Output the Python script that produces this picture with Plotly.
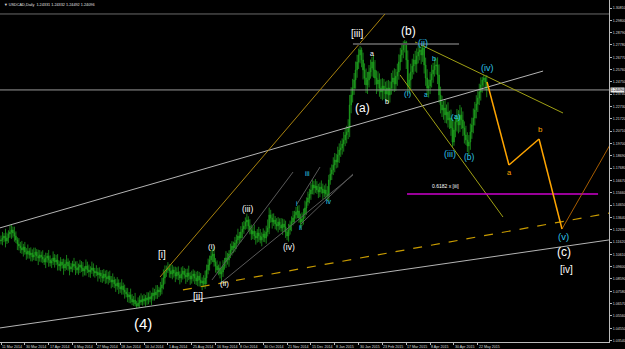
import plotly.graph_objects as go

# ---------------- data (prices in pips, 1e-4) ----------------
first_open = 11170
close_pips = [
    11179,11195,11211,11170,11195,11228,11244,11261,11236,11211,11179,11146,11129,
    11113,11097,11121,11080,11064,11088,11056,11072,11039,11056,11080,11047,11031,11056,
    11039,11023,10998,11031,11047,11015,10990,11006,11031,10998,
    11015,10982,10965,10998,10974,10949,10982,10998,10965,10941,10957,10982,10965,10949,
    10933,10957,10974,10949,10924,10941,10965,10933,10916,10933,10949,10924,10908,
    10916,10892,10908,10883,10867,10900,10875,10859,10883,10851,
    10834,10851,10818,10801,10826,10793,10777,10801,10769,10752,
    10736,10711,10728,10695,10670,10687,10654,10637,
    10662,10687,10670,10695,10678,10703,10687,10711,10695,
    10719,10744,10728,10752,10769,10752,10785,10810,10867,
    10916,10933,10949,10924,
    10900,10933,10908,10883,10916,10892,10867,10900,10924,10892,10875,10908,10883,10859,10883,10900,
    10867,10842,10883,10851,10826,10842,10818,
    10867,10933,10974,11015,11047,11064,
    10998,10965,10933,10949,10900,10916,
    10965,10998,11031,11015,11064,11097,11129,11113,11154,11179,11211,11195,11244,11269,11293,11326,11343,
    11293,11261,11228,11252,11211,11195,11236,11211,11179,11203,11228,11195,11244,11277,
    11384,11359,11326,11343,11310,11293,11326,11302,11277,11310,11285,11244,11211,
    11261,11302,11326,11359,11384,11408,11416,
    11359,11326,11351,
    11392,11441,11490,11523,11556,11589,11630,
    11605,11621,11589,11572,11613,11597,11564,11589,11556,11539,
    11671,11720,11753,11794,11835,11818,11876,11917,11933,11966,11999,12040,12064,12097,
    12286,12368,12425,12491,12573,12638,12696,12737,
    12655,12573,12507,12450,12491,12556,12589,
    12638,
    12573,12507,12458,12491,12425,12392,12441,12409,12376,12425,12368,
    12425,12474,12507,12458,12523,12556,
    12638,12696,12737,12778,12802,12655,
    12441,12491,
    12556,12605,12655,12622,12687,12720,12737,12696,12753,
    12614,12507,12425,12441,
    12491,12540,12573,12605,12614,
    12532,12368,12286,12245,12261,12204,12228,12163,12179,12097,11982,
    12081,12146,12179,12122,12204,12163,12097,
    12040,11999,11949,11982,
    12064,12122,12179,12245,12294,12343,12392,
    12450,12491,12507,12474,12409,
]
wick_up = [
    36,50,24,60,44,30,56,40,28,52,38,22,48,34,58,26,42,32,54,24,
    46,30,60,36,24,52,40,28,56,34,44,26,50,38,22,54,32,42,48,28,
    40,24,52,36,58,30,44,34,26,50,38,56,28,42,32,48,22,54,36,44,
    30,52,38,26,56,34,46,24,50,40,28,58,36,44,32,54,26,42,48,30,
    38,56,28,44,34,50,24,52,40,32,58,26,46,36,54,30,42,24,48,38,
    52,28,44,34,56,40,26,50,60,70,54,36,48,32,58,42,28,52,38,46,
    30,54,40,26,50,36,60,32,44,38,28,52,42,34,56,30,48,60,44,52,
    36,50,40,58,32,46,28,54,38,48,34,56,42,30,52,40,36,50,44,60,
    34,48,56,42,38,52,30,56,44,36,54,40,32,50,58,38,46,28,52,70,
    60,42,36,54,32,48,40,30,56,44,38,52,28,50,36,46,58,34,42,40,
    48,36,54,44,60,38,52,42,56,46,34,58,40,50,36,54,44,38,52,64,
    42,52,45,63,57,50,68,54,60,46,66,58,51,72,82,63,75,57,69,60,
    52,32,20,60,54,78,66,57,69,42,58,81,62,70,54,75,64,57,68,60,
    66,56,74,62,80,57,69,63,58,52,30,17,10,78,54,68,60,50,75,63,
    57,25,30,25,15,60,72,54,66,76,58,69,52,63,87,68,75,57,70,62,
    80,60,69,66,78,57,74,64,82,62,70,54,75,63,57,69,60,78,66,72,
    58,68,62,25,25,15,57,
]
wick_dn = [
    28,44,34,52,24,40,30,56,38,46,26,50,36,42,32,54,22,48,38,30,
    52,36,26,48,40,58,30,44,34,24,50,38,56,28,42,32,46,26,54,36,
    42,30,56,26,48,38,52,24,44,34,58,28,40,50,32,46,36,54,26,42,
    48,32,44,38,26,54,30,50,40,28,56,36,46,24,52,42,34,48,30,58,
    32,46,38,54,28,42,50,36,26,32,20,17,12,38,24,30,30,46,40,36,
    28,50,38,46,32,56,42,30,52,36,48,40,26,54,34,44,38,50,28,42,
    52,36,46,30,56,40,34,48,38,44,50,32,42,54,28,60,26,40,52,36,
    46,32,50,38,54,28,44,36,60,40,30,48,38,56,34,46,42,32,50,38,
    44,34,52,40,30,56,46,36,50,42,32,54,38,48,28,52,40,34,46,36,
    50,38,54,32,44,36,52,40,30,56,42,48,34,46,38,52,28,44,36,50,
    40,52,34,46,38,56,30,44,48,36,54,40,32,50,42,38,52,34,46,40,
    45,39,50,42,60,52,46,66,57,54,63,51,69,58,75,68,62,56,72,64,
    57,69,60,78,56,66,74,62,54,70,64,58,82,63,72,57,68,76,60,66,
    70,62,54,75,66,58,80,63,69,57,68,62,74,52,64,75,56,69,63,72,
    60,68,76,57,70,64,58,78,66,62,72,54,68,75,63,69,58,80,66,70,
    62,74,64,41,30,60,78,69,57,75,66,70,40,49,72,64,56,68,62,69,
    66,58,70,63,57,68,60,
]
assert len(close_pips) == 327, len(close_pips)
assert len(wick_up) == 327, len(wick_up)
assert len(wick_dn) == 327, len(wick_dn)

date_labels = ["11 Mar 2014", "30 Mar 2014", "17 Apr 2014", "6 May 2014", "27 May 2014",
               "18 Jun 2014", "10 Jul 2014", "1 Aug 2014", "25 Aug 2014", "16 Sep 2014",
               "8 Oct 2014", "30 Oct 2014", "21 Nov 2014", "15 Dec 2014", "8 Jan 2015",
               "30 Jan 2015", "23 Feb 2015", "17 Mar 2015", "8 Apr 2015", "30 Apr 2015",
               "22 May 2015"]
date_label_bars = [0, 16, 32, 48, 64, 80, 96, 112, 128, 144, 160, 176, 192, 208, 224,
                   240, 256, 272, 288, 304, 320]

price_ticks = ["1.30810", "1.29800", "1.28790", "1.27780", "1.26770", "1.25760", "1.24750",
               "1.23740", "1.22730", "1.21720", "1.20710", "1.19700", "1.18690", "1.17680",
               "1.16670", "1.15660", "1.14650", "1.13640", "1.12630", "1.11620", "1.10610",
               "1.09600", "1.08590", "1.07580", "1.06570", "1.05560", "1.04550", "1.03540"]

# analysis objects: (bar0, price0, bar1, price1)
gray_upper = (-1, 1.1277, 363.8, 1.2564)
gray_lower = (-1, 1.0457, 408.0, 1.1179)
gold_channel = (106.7, 1.0875, 257.7, 1.3032)
gold_dashed = (122.1, 1.0769, 408.7, 1.1400)
thin_lines = [(141.6, 1.0851, 196.0, 1.1736),
              (148.3, 1.0834, 236.2, 1.1711),
              (198.7, 1.1474, 214.1, 1.1777),
              (201.3, 1.1310, 236.2, 1.1720)]
olive_upper = (277.9, 1.2802, 377.2, 1.2220)
olive_lower = (267.8, 1.2532, 336.9, 1.1367)
high_level = (236.2, 307.4, 1.2786)
top_level = 1.3032
fib_level = (272.5, 400.7, 1.1556)
proj_bars = [326.2, 340.9, 361.1, 376.5]
proj_prices = [1.2474, 1.1794, 1.2007, 1.1269]
proj_next = (376.5, 1.1269, 408.7, 1.1958)

white_labels = [("(4)", 95.3, 1.0498, 15), ("[i]", 108.0, 1.1056, 10), ("[ii]", 132.2, 1.0719, 10),
                ("(i)", 141.6, 1.1129, 8), ("(ii)", 149.7, 1.0826, 8), ("(iii)", 165.1, 1.1433, 8.5),
                ("(iv)", 193.3, 1.1121, 8.5), ("[iii]", 238.9, 1.2876, 10), ("(a)", 242.3, 1.2261, 12),
                ("a", 249.0, 1.2704, 7), ("b", 259.0, 1.2318, 7), ("(b)", 273.2, 1.2892, 12),
                ("(c)", 377.9, 1.1080, 12), ("[iv]", 379.2, 1.0933, 10)]
cyan_labels = [("i", 198.7, 1.1482, 7), ("ii", 201.3, 1.1285, 7), ("iii", 206.0, 1.1720, 7),
               ("iv", 220.1, 1.1498, 7), ("(i)", 272.5, 1.2376, 8), ("(ii)", 283.2, 1.2794, 9),
               ("a", 285.2, 1.2368, 6.5), ("b", 290.6, 1.2663, 7.5), ("(a)", 305.4, 1.2195, 8),
               ("(iii)", 301.3, 1.1884, 9), ("(b)", 314.1, 1.1859, 8.5), ("(iv)", 326.2, 1.2589, 9),
               ("(v)", 377.2, 1.1211, 9.5)]
orange_labels = [("a", 341.6, 1.1736, 7.5), ("b", 362.4, 1.2081, 8)]
fib_text = ("0.6182 x [iii]", 298.0, 1.1621)

# ---------------- build ----------------
closes = [v / 10000 for v in close_pips]
opens = [first_open / 10000] + closes[:-1]
highs = [max(o, c) + u / 10000 for o, c, u in zip(opens, closes, wick_up)]
lows = [min(o, c) - d / 10000 for o, c, d in zip(opens, closes, wick_dn)]
bars = list(range(len(closes)))

G = "#1e9e1e"
fig = go.Figure(go.Candlestick(
    x=bars, open=opens, high=highs, low=lows, close=closes,
    increasing=dict(line=dict(color=G, width=0.8), fillcolor=G),
    decreasing=dict(line=dict(color=G, width=0.8), fillcolor=G),
    whiskerwidth=0, showlegend=False, hoverinfo="skip"))

shapes = []
def seg(t, color, width=1, dash="solid"):
    shapes.append(dict(type="line", xref="x", yref="y", x0=t[0], y0=t[1], x1=t[2], y1=t[3],
                       line=dict(color=color, width=width, dash=dash)))

shapes.append(dict(type="line", xref="paper", yref="y", x0=0, x1=1, y0=top_level, y1=top_level,
                   line=dict(color="#6a6a6a", width=1)))
shapes.append(dict(type="line", xref="paper", yref="y", x0=0, x1=1, y0=closes[-1], y1=closes[-1],
                   line=dict(color="#9a9a9a", width=1)))
seg(gray_upper, "#b4b4b4")
seg(gray_lower, "#b4b4b4")
for t in thin_lines:
    seg(t, "#5a5a5a")
seg(gold_channel, "#a8820e")
seg(gold_dashed, "#c89b00", 1.2, "dash")
seg(olive_upper, "#a0a014")
seg(olive_lower, "#a0a014")
shapes.append(dict(type="line", xref="x", yref="y", x0=high_level[0], x1=high_level[1],
                   y0=high_level[2], y1=high_level[2], line=dict(color="#505050", width=2)))
shapes.append(dict(type="line", xref="x", yref="y", x0=fib_level[0], x1=fib_level[1],
                   y0=fib_level[2], y1=fib_level[2], line=dict(color="#cc00cc", width=1.5)))
seg(proj_next, "#a65c00")
for k in range(len(proj_bars) - 1):
    seg((proj_bars[k], proj_prices[k], proj_bars[k + 1], proj_prices[k + 1]), "#ffa500", 1.5)

FONT = "Liberation Sans, Arial, sans-serif"
ann = []
for txt, xb, yp, sz in white_labels:
    ann.append(dict(x=xb, y=yp, text=txt, showarrow=False, font=dict(color="#ffffff", size=sz, family=FONT)))
for txt, xb, yp, sz in cyan_labels:
    ann.append(dict(x=xb, y=yp, text=txt, showarrow=False, font=dict(color="#2ec4e8", size=sz, family=FONT)))
for txt, xb, yp, sz in orange_labels:
    ann.append(dict(x=xb, y=yp, text=txt, showarrow=False, font=dict(color="#ffa500", size=sz, family=FONT)))
ann.append(dict(x=fib_text[1], y=fib_text[2], text=fib_text[0], showarrow=False,
                font=dict(color="#ffffff", size=5, family=FONT)))
for b, lab in zip(date_label_bars, date_labels):
    ann.append(dict(x=b, y=0, xref="x", yref="paper", yanchor="top", xanchor="left", text=lab,
                    showarrow=False, xshift=-1, yshift=-1,
                    font=dict(color="#dddddd", size=3.6, family=FONT)))
ann.append(dict(x=1, y=closes[-1], xref="paper", yref="y", xanchor="left", text=f"{closes[-1]:.5f}",
                showarrow=False, bgcolor="#e8e8e8", borderpad=0, xshift=1,
                font=dict(color="#000000", size=3.6, family=FONT)))
ann.append(dict(x=0.004, y=1, xref="paper", yref="paper", xanchor="left", yanchor="top",
                text="▼ USDCAD,Daily  1.24331 1.24332 1.24492 1.24096", showarrow=False, yshift=-1,
                font=dict(color="#e0e0e0", size=3.8, family=FONT)))

fig.update_layout(
    width=625, height=349, margin=dict(l=0, r=16, t=0, b=7),
    paper_bgcolor="#000000", plot_bgcolor="#000000",
    shapes=shapes, annotations=ann, showlegend=False,
    xaxis=dict(range=[-0.671, 408.05], showgrid=False, zeroline=False, showline=True,
               linecolor="#bbbbbb", linewidth=1, tickvals=date_label_bars, ticks="outside",
               ticklen=2, tickcolor="#bbbbbb", showticklabels=False,
               rangeslider=dict(visible=False)),
    yaxis=dict(side="right", range=[1.03422, 1.31466], showgrid=False, zeroline=False,
               showline=True, linecolor="#bbbbbb", linewidth=1,
               tickvals=[float(t) for t in price_ticks], ticktext=price_ticks,
               ticks="outside", ticklen=2, tickcolor="#bbbbbb",
               tickfont=dict(color="#dddddd", size=3.6, family=FONT)),
)
fig.write_html("out.html")
